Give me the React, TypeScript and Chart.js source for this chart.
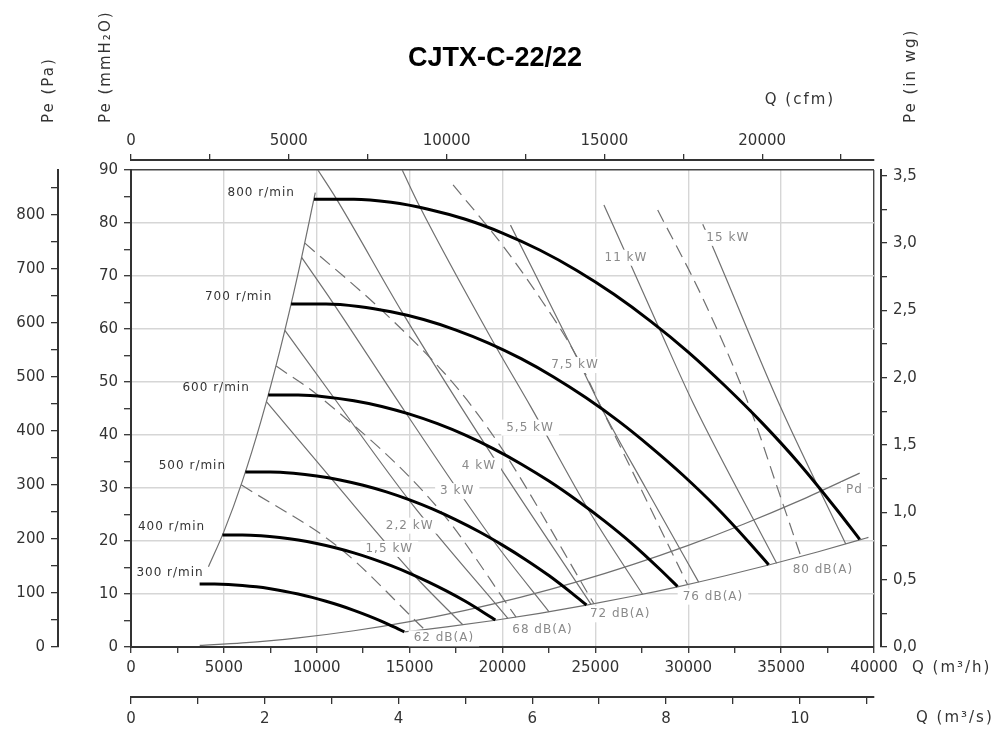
import React, { useEffect, useRef } from 'react';
import { Chart, registerables } from 'chart.js';

Chart.register(...registerables);

type Pt = [number, number];

const TITLE = 'CJTX-C-22/22';

// Axis ranges (Q in m³/h, Pe in mmH2O)
const Q_MAX = 40000;
const P_MAX = 90;
const PA_PER_MM = 9.80665;
const MM_PER_INWG = 25.4;
const M3H_PER_CFM = 1.699011;
const M3H_PER_M3S = 3600;

// Tick steps (minor, labelled)
const Q_TICKS = [2500, 5000];
const P_TICKS = [5, 10];
const PA_TICKS = [50, 100];
const INWG_TICKS = [0.25, 0.5];
const CFM_TICKS = [0, 2500, 5000, 7500, 10000, 12500, 15000, 17500, 20000, 22500];
const CFM_LABEL_STEP = 5000;
const M3S_TICKS = [1, 2];

// Fan curves
const RPM_800: Pt[] = [[9850, 84.5], [12000, 84.5], [14000, 83.9], [16000, 82.6], [18000, 80.7], [20000, 78.1], [22000, 74.9], [24000, 71.05], [26000, 66.55], [28000, 61.4], [30000, 55.65], [32000, 49.2], [34000, 42.2], [36000, 34.5], [38000, 25.9], [39230, 20.3]];
const RPM_700: Pt[] = [[8619, 64.7], [10500, 64.7], [12250, 64.24], [14000, 63.24], [15750, 61.79], [17500, 59.8], [19250, 57.35], [21000, 54.4], [22750, 50.95], [24500, 47.01], [26250, 42.61], [28000, 37.67], [29750, 32.31], [31500, 26.41], [33250, 19.83], [34326, 15.54]];
const RPM_600: Pt[] = [[7388, 47.53], [9000, 47.53], [10500, 47.19], [12000, 46.46], [13500, 45.39], [15000, 43.93], [16500, 42.13], [18000, 39.97], [19500, 37.43], [21000, 34.54], [22500, 31.3], [24000, 27.68], [25500, 23.74], [27000, 19.41], [28500, 14.57], [29423, 11.42]];
const RPM_500: Pt[] = [[6156, 33.01], [7500, 33.01], [8750, 32.77], [10000, 32.27], [11250, 31.52], [12500, 30.51], [13750, 29.26], [15000, 27.75], [16250, 26.0], [17500, 23.98], [18750, 21.74], [20000, 19.22], [21250, 16.48], [22500, 13.48], [23750, 10.12], [24519, 7.93]];
const RPM_400: Pt[] = [[4925, 21.13], [6000, 21.13], [7000, 20.98], [8000, 20.65], [9000, 20.18], [10000, 19.53], [11000, 18.73], [12000, 17.76], [13000, 16.64], [14000, 15.35], [15000, 13.91], [16000, 12.3], [17000, 10.55], [18000, 8.63], [19000, 6.48], [19615, 5.08]];
const RPM_300: Pt[] = [[3694, 11.88], [4500, 11.88], [5250, 11.8], [6000, 11.62], [6750, 11.35], [7500, 10.98], [8250, 10.53], [9000, 9.99], [9750, 9.36], [10500, 8.63], [11250, 7.83], [12000, 6.92], [12750, 5.93], [13500, 4.85], [14250, 3.64], [14711, 2.85]];

// Boundaries and dynamic pressure
const LEFT_LIMIT: Pt[] = [[4170, 15.14], [5000, 21.77], [6000, 31.35], [7000, 42.68], [8000, 55.74], [9000, 70.55], [9920, 85.71]];
const LOWER_LIMIT: Pt[] = [[14711, 2.84], [17000, 3.79], [19615, 5.05], [22000, 6.35], [24519, 7.89], [27000, 9.57], [29423, 11.36], [32000, 13.44], [34326, 15.47], [37000, 17.97], [39230, 20.2], [39700, 20.69]];
const PD_CURVE: Pt[] = [[3700, 0.29], [6000, 0.77], [9000, 1.73], [12000, 3.07], [15000, 4.8], [18000, 6.91], [21000, 9.4], [24000, 12.28], [27000, 15.54], [30000, 19.18], [33000, 23.21], [36000, 27.62], [39230, 32.8]];

// Iso-power lines
const KW_1_5: Pt[] = [[7289, 46.3], [10753, 31.9], [15305, 13.3], [17862, 4.19]];
const KW_2_2: Pt[] = [[8283, 59.75], [11009, 46.6], [15039, 27.4], [20291, 5.4]];
const KW_3: Pt[] = [[9185, 73.5], [10918, 64.7], [14789, 44.2], [19523, 20.0], [22507, 6.65]];
const KW_4: Pt[] = [[10060, 90], [11050, 84.6], [14661, 62.8], [18825, 39.5], [24766, 8.05]];
const KW_5_5: Pt[] = [[14600, 90], [15530, 83.2], [19509, 57.5], [21525, 45.3], [24638, 25.8], [27540, 9.95]];
const KW_7_5: Pt[] = [[20430, 79.6], [23935, 55.1], [25300, 45.3], [27725, 29.9], [30560, 12.24]];
const KW_11: Pt[] = [[25460, 83.4], [26810, 72.9], [28450, 60.0], [30240, 46.2], [34760, 15.8]];
const KW_15: Pt[] = [[30780, 79.75], [31280, 75.8], [34915, 45.7], [37090, 29.5], [38480, 19.45]];

// Iso-noise lines
const DB_62: Pt[] = [[5930, 30.6], [11203, 18.75], [15810, 3.28]];
const DB_68: Pt[] = [[7816, 53.0], [10057, 47.5], [16632, 25.8], [20730, 5.64]];
const DB_72: Pt[] = [[9360, 76.2], [13420, 63.8], [16890, 51.6], [18330, 45.5], [20067, 36.9], [24923, 8.15]];
const DB_76: Pt[] = [[17340, 87.2], [20000, 75.8], [21795, 67.0], [23950, 55.1], [25400, 44.6], [29964, 11.78]];
const DB_80: Pt[] = [[28355, 82.45], [30780, 65.8], [33260, 45.7], [34930, 28.7], [36065, 17.06]];

const FAN_CURVES: [string, Pt[]][] = [['800 r/min', RPM_800], ['700 r/min', RPM_700], ['600 r/min', RPM_600], ['500 r/min', RPM_500], ['400 r/min', RPM_400], ['300 r/min', RPM_300]];
const POWER_LINES: [string, Pt[]][] = [['1,5 kW', KW_1_5], ['2,2 kW', KW_2_2], ['3 kW', KW_3], ['4 kW', KW_4], ['5,5 kW', KW_5_5], ['7,5 kW', KW_7_5], ['11 kW', KW_11], ['15 kW', KW_15]];
const NOISE_LINES: [string, Pt[]][] = [['62 dB(A)', DB_62], ['68 dB(A)', DB_68], ['72 dB(A)', DB_72], ['76 dB(A)', DB_76], ['80 dB(A)', DB_80]];

// Label anchors (text, Q, Pe)
const RPM_LABELS: [string, number, number][] = [['800 r/min', 7008, 85.6], ['700 r/min', 5795, 66.1], ['600 r/min', 4582, 48.9], ['500 r/min', 3305, 34.15], ['400 r/min', 2183, 22.6], ['300 r/min', 2102, 14.0]];
const LINE_LABELS: [string, number, number][] = [
  ['1,5 kW', 13908, 18.5], ['2,2 kW', 15003, 22.9], ['3 kW', 17563, 29.4], ['4 kW', 18733, 34.2],
  ['5,5 kW', 21483, 41.4], ['7,5 kW', 23907, 53.2], ['11 kW', 26647, 73.45], ['15 kW', 32130, 77.2],
  ['62 dB(A)', 16846, 1.64], ['68 dB(A)', 22155, 3.2], ['72 dB(A)', 26335, 6.17], ['76 dB(A)', 31330, 9.5],
  ['80 dB(A)', 37250, 14.5], ['Pd', 38950, 29.6],
];

const FONT = '"DejaVu Sans", sans-serif';
const INK = '#333';
const GRID = '#d6d6d6';
const CLEAR = 'rgba(0,0,0,0)';

const isMul = (v: number, step: number) => Math.abs(v / step - Math.round(v / step)) < 1e-6;

function setSpacing(ctx: any, s: string) {
  try { ctx.letterSpacing = s; } catch (e) { /* ignore */ }
}

function drawCurveLabels(chart: any) {
  const { ctx } = chart;
  const xs = chart.scales.x;
  const ys = chart.scales.y;
  ctx.save();
  ctx.textAlign = 'center';
  ctx.textBaseline = 'middle';
  ctx.font = `12px ${FONT}`;
  setSpacing(ctx, '1px');
  for (const [text, q, p] of LINE_LABELS) {
    const px = xs.getPixelForValue(q);
    const py = ys.getPixelForValue(p);
    const w = ctx.measureText(text).width;
    ctx.fillStyle = '#fff';
    ctx.fillRect(px - w / 2 - 5, py - 8, w + 10, 16);
    ctx.fillStyle = '#8a8a8a';
    ctx.fillText(text, px, py);
  }
  ctx.fillStyle = INK;
  for (const [text, q, p] of RPM_LABELS) {
    ctx.fillText(text, xs.getPixelForValue(q), ys.getPixelForValue(p));
  }
  ctx.restore();
}

const annotate = {
  id: 'annotate',
  // thin lines are drawn first; labels go on top of them but under the thick fan curves
  beforeDatasetDraw(chart: any, args: any) {
    if (args.index === FAN_CURVES.length - 1) drawCurveLabels(chart);
  },
  afterDraw(chart: any) {
    const { ctx, chartArea } = chart;
    const s = chart.scales;
    ctx.save();
    ctx.fillStyle = '#000';
    ctx.font = `bold 27px "Liberation Sans", Arial, sans-serif`;
    ctx.textAlign = 'center';
    ctx.textBaseline = 'alphabetic';
    ctx.fillText(TITLE, 495, 66);

    ctx.fillStyle = INK;
    ctx.font = `15px ${FONT}`;
    setSpacing(ctx, '2px');
    const vert = (text: string, x: number, y: number) => {
      ctx.save();
      ctx.translate(x, y);
      ctx.rotate(-Math.PI / 2);
      ctx.textAlign = 'left';
      ctx.textBaseline = 'middle';
      ctx.fillText(text, 0, 0);
      ctx.restore();
    };
    const titleBottom = chartArea.top - 47;
    vert('Pe (Pa)', s.pa.right - 9, titleBottom);
    vert('Pe (mmH₂O)', chartArea.left - 25, titleBottom);
    vert('Pe (in wg)', s.inwg.left + 30, titleBottom);

    ctx.textBaseline = 'middle';
    ctx.textAlign = 'center';
    ctx.fillText('Q (cfm)', 800, 100);
    ctx.textAlign = 'left';
    ctx.fillText('Q (m³/h)', chartArea.right + 38, chartArea.bottom + 21);
    ctx.fillText('Q (m³/s)', chartArea.right + 42, s.m3s.top + 21);
    ctx.restore();
  },
};

export default function App() {
  const ref = useRef<HTMLCanvasElement>(null);

  useEffect(() => {
    const canvas = ref.current;
    if (!canvas) return;

    Chart.defaults.font.family = FONT;
    Chart.defaults.font.size = 15;
    Chart.defaults.color = INK;

    const line = (label: string, pts: Pt[], style: any) => ({
      label,
      data: pts.map(([x, y]) => ({ x, y })),
      pointRadius: 0,
      fill: false,
      cubicInterpolationMode: 'monotone',
      ...style,
    });
    const thick = { borderColor: '#000', borderWidth: 3, order: 0 };
    const thin = { borderColor: '#707070', borderWidth: 1.2, order: 1 };
    const dashed = { ...thin, borderDash: [13, 7] };

    const datasets: any[] = [
      ...FAN_CURVES.map(([n, p]) => line(n, p, thick)),
      line('limit', LEFT_LIMIT, thin),
      line('lower', LOWER_LIMIT, thin),
      line('Pd', PD_CURVE, thin),
      ...POWER_LINES.map(([n, p]) => line(n, p, thin)),
      ...NOISE_LINES.map(([n, p]) => line(n, p, dashed)),
    ];

    const tickCommon = { autoSkip: false, maxRotation: 0, minRotation: 0, color: INK, font: { size: 15 } };
    const border = { display: true, color: INK, width: 2 };
    const spacer = (position: string, size: number) => ({
      type: 'linear', position, display: true, weight: 0,
      ticks: { display: false }, grid: { display: false }, border: { display: false },
      afterFit: (sc: any) => { if (position === 'top' || position === 'bottom') sc.height = size; else sc.width = size; },
    });

    const chart = new Chart(canvas, {
      type: 'line',
      data: { datasets },
      options: {
        animation: false,
        responsive: true,
        maintainAspectRatio: false,
        events: [],
        layout: { padding: { left: 0, right: 45, top: 130, bottom: 2 } },
        plugins: { legend: { display: false }, tooltip: { enabled: false }, title: { display: false } },
        scales: {
          x: {
            type: 'linear', position: 'bottom', min: 0, max: Q_MAX, weight: 0,
            ticks: { ...tickCommon, stepSize: Q_TICKS[0], padding: 6, callback: (v: any) => (isMul(v, Q_TICKS[1]) ? String(v) : '') },
            grid: {
              color: (c: any) => {
                const v = c.tick ? c.tick.value : -1;
                if (v === Q_MAX) return '#444';
                if (v <= 0) return CLEAR;
                return isMul(v, Q_TICKS[1]) ? GRID : CLEAR;
              },
              lineWidth: 1.4, tickColor: INK, tickWidth: 1.3, tickLength: 6,
            },
            border,
            afterFit: (sc: any) => { sc.height = 50; },
          },
          m3s: {
            type: 'linear', position: 'bottom', min: 0, max: Q_MAX / M3H_PER_M3S, weight: 1,
            ticks: { ...tickCommon, stepSize: M3S_TICKS[0], includeBounds: false, padding: 6, callback: (v: any) => (isMul(v, M3S_TICKS[1]) ? String(Math.round(v)) : '') },
            grid: { drawOnChartArea: false, color: INK, lineWidth: 1.3, tickLength: 7 },
            border,
            afterFit: (sc: any) => { sc.height = 30; },
          },
          y: {
            type: 'linear', position: 'left', min: 0, max: P_MAX, weight: 0,
            ticks: { ...tickCommon, stepSize: P_TICKS[0], padding: 6, callback: (v: any) => (isMul(v, P_TICKS[1]) ? String(v) : '') },
            grid: {
              color: (c: any) => {
                const v = c.tick ? c.tick.value : -1;
                if (v === P_MAX) return '#444';
                if (v <= 0) return CLEAR;
                return isMul(v, P_TICKS[1]) ? GRID : CLEAR;
              },
              lineWidth: 1.4, tickColor: INK, tickWidth: 1.3, tickLength: 7,
            },
            border,
            afterFit: (sc: any) => { sc.width = 73; },
          },
          pa: {
            type: 'linear', position: 'left', min: 0, max: P_MAX * PA_PER_MM, weight: 1,
            ticks: { ...tickCommon, stepSize: PA_TICKS[0], includeBounds: false, padding: 6, callback: (v: any) => (isMul(v, PA_TICKS[1]) ? String(v) : '') },
            grid: { drawOnChartArea: false, color: INK, lineWidth: 1.3, tickLength: 7 },
            border,
            afterFit: (sc: any) => { sc.width = 58; },
          },
          spR: spacer('right', 7),
          inwg: {
            type: 'linear', position: 'right', min: 0, max: P_MAX / MM_PER_INWG, weight: 1,
            ticks: { ...tickCommon, stepSize: INWG_TICKS[0], includeBounds: false, padding: 6, callback: (v: any) => (isMul(v, INWG_TICKS[1]) ? Number(v).toFixed(1).replace('.', ',') : '') },
            grid: { drawOnChartArea: false, color: INK, lineWidth: 1.3, tickLength: 6 },
            border,
            afterFit: (sc: any) => { sc.width = 80; },
          },
          spT: spacer('top', 10),
          cfm: {
            type: 'linear', position: 'top', min: 0, max: Q_MAX / M3H_PER_CFM, weight: 1,
            afterBuildTicks: (sc: any) => { sc.ticks = CFM_TICKS.map((value) => ({ value })); },
            ticks: { ...tickCommon, padding: 4, callback: (v: any) => (isMul(Number(v), CFM_LABEL_STEP) ? String(v) : '') },
            grid: { drawOnChartArea: false, color: INK, lineWidth: 1.3, tickLength: 6 },
            border,
            afterFit: (sc: any) => { sc.height = 30; },
          },
        } as any,
      },
      plugins: [annotate as any],
    } as any);

    return () => chart.destroy();
  }, []);

  return (
    <div style={{ position: 'absolute', left: 0, top: 0, width: 1006, height: 729 }}>
      <canvas ref={ref} />
    </div>
  );
}
